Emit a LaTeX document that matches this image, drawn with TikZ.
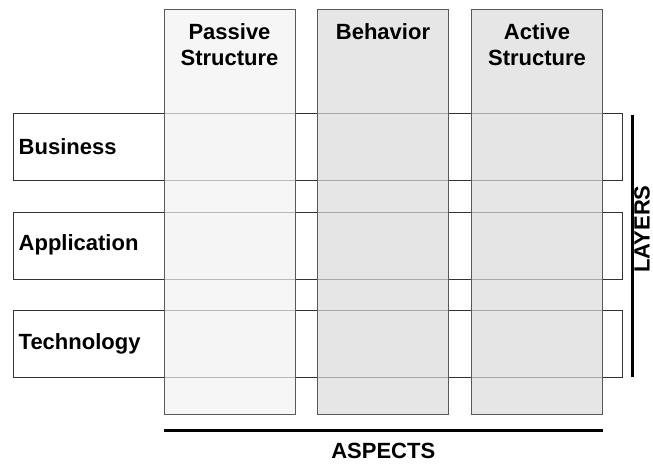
\documentclass[tikz,border=0pt]{standalone}
\usepackage{fontspec}
\setmainfont{Liberation Sans}
\usetikzlibrary{positioning}
\begin{document}
\begin{tikzpicture}[
      x=1pt, y=-1pt,
      every node/.style={font=\bfseries\fontsize{22}{26}\selectfont},
      layerbox/.style={rectangle, draw=black!80, fill=white, minimum width=609pt, minimum height=67pt,
                       text width=597pt, inner xsep=6pt, align=left, anchor=north west},
      aspectbox/.style={rectangle, draw=black!65, fill opacity=0.7, minimum width=131pt,
                        minimum height=405pt, anchor=north},
      aspecttitle/.style={align=center, inner sep=0pt, below=14pt of #1.north}
  ]
  \useasboundingbox (0,0) rectangle (653,463);

  % layers
  \node[layerbox] (business) at (12.5,113) {Business};
  \node[layerbox] (application) at (12.5,211.5) {Application};
  \node[layerbox] (technology) at (12.5,310) {Technology};

  % aspects
  \node[aspectbox, fill=black!5] (passive) at (229.5,9) {};
  \node[aspectbox, fill=black!14] (behavior) at (383,9) {};
  \node[aspectbox, fill=black!14] (active) at (537,9) {};

  \node[aspecttitle=passive] (passivetitle) {Passive\\Structure};
  \node[aspecttitle=behavior] (behaviortitle) {Behavior};
  \node[aspecttitle=active] (activetitle) {Active\\Structure};

  % axes
  \coordinate (aspectsleft) at (164,430.5);
  \coordinate (aspectsright) at (602.5,430.5);
  \draw[line width=3pt] (aspectsleft) -- (aspectsright)
      node[midway, below=11.5pt, inner sep=0pt] (aspects) {ASPECTS};

  \coordinate (layerstop) at (632.5,115);
  \coordinate (layersbottom) at (632.5,377);
  \draw[line width=3pt] (layerstop) -- (layersbottom);
  \node[rotate=90, inner sep=0pt] (layers) at (642,229) {LAYERS};

\end{tikzpicture}
\end{document}
